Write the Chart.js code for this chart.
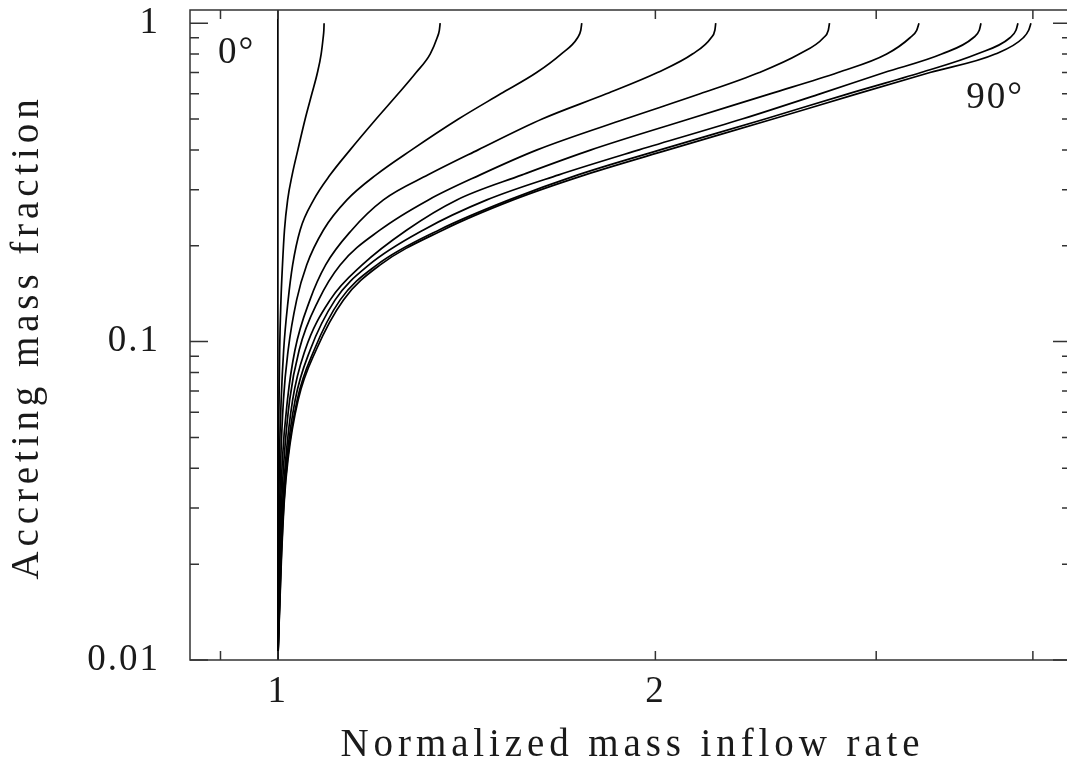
<!DOCTYPE html>
<html>
<head>
<meta charset="utf-8">
<title>Accreting mass fraction</title>
<script src="https://cdn.jsdelivr.net/npm/chart.js@4.4.1/dist/chart.umd.min.js"></script>
<style>
    html, body { margin: 0; padding: 0; background: #fff; overflow: hidden; }
    #chart { display: block; }
</style>
</head>
<body>
<canvas id="chart" width="1085" height="759" style="width:1085px;height:759px"></canvas>
<script>
'use strict';

// accreting mass fraction (y), shared by the 10..90 deg curves
var massFraction = [0.01, 0.0206, 0.0318, 0.0425, 0.0656, 0.0941, 0.1352, 0.1741, 0.2242,
                    0.2786, 0.3339, 0.4, 0.5, 0.6, 0.7, 0.8, 0.9, 0.95, 1.0];

// 0 deg: straight line at inflow rate 1
var inflow0   = [1, 1];
var fraction0 = [0.01, 1.1];

// normalized mass inflow rate, one array per inclination
var inflow10 = [1.000, 1.0004, 1.0006, 1.0009, 1.0022, 1.0033, 1.0057, 1.0085, 1.0122, 1.0181,
                1.0266, 1.0374, 1.0514, 1.0644, 1.0754, 1.0827, 1.0867, 1.0881, 1.0886];
var inflow20 = [1.000, 1.0009, 1.0018, 1.0028, 1.0061, 1.0107, 1.0191, 1.0275, 1.0418, 1.0679,
                1.1008, 1.1419, 1.1977, 1.2471, 1.2890, 1.3226, 1.3397, 1.3451, 1.3472];
var inflow30 = [1.000, 1.0018, 1.0035, 1.0053, 1.0103, 1.0191, 1.0351, 1.0543, 1.0873, 1.1352,
                1.1977, 1.2784, 1.3931, 1.5053, 1.6081, 1.6821, 1.7338, 1.7440, 1.7472];
var inflow40 = [1.000, 1.0029, 1.0053, 1.0083, 1.0178, 1.0319, 1.0607, 1.0917, 1.1455, 1.2139,
                1.3177, 1.4444, 1.6244, 1.8279, 2.0077, 2.1409, 2.2157, 2.2308, 2.2345];
var inflow50 = [1.000, 1.0039, 1.0072, 1.0113, 1.0219, 1.0399, 1.0778, 1.1212, 1.2066, 1.3184,
                1.4497, 1.6096, 1.8918, 2.1710, 2.4206, 2.6050, 2.7234, 2.7475, 2.7535];
var inflow60 = [1.000, 1.0050, 1.0092, 1.0144, 1.0275, 1.0514, 1.1008, 1.1674, 1.2672, 1.3890,
                1.5659, 1.7773, 2.1276, 2.4686, 2.7968, 3.0584, 3.1920, 3.2315, 3.2452];
var inflow70 = [1.000, 1.0055, 1.0105, 1.0163, 1.0323, 1.0611, 1.1109, 1.1820, 1.3064, 1.4676,
                1.6750, 1.9410, 2.3450, 2.7059, 3.0449, 3.3833, 3.5853, 3.6250, 3.6364];
var inflow80 = [1.000, 1.0061, 1.0115, 1.0178, 1.0361, 1.0689, 1.1212, 1.1995, 1.3446, 1.5289,
                1.7348, 2.0173, 2.4461, 2.8487, 3.2571, 3.6098, 3.8352, 3.8776, 3.8919];
var inflow90 = [1.000, 1.0065, 1.0120, 1.0187, 1.0380, 1.0728, 1.1280, 1.2066, 1.3545, 1.5402,
                1.7578, 2.0471, 2.4823, 2.8961, 3.3114, 3.7331, 3.9300, 3.9691, 3.9859];

// axis ticks
var xTickLabels = [1, 2];
var xMinorTicks = [0.9, 1, 2, 3, 4];
var yTickLabels = [0.01, 0.1, 1];
var yMinorTicks = [0.02, 0.03, 0.04, 0.05, 0.06, 0.07, 0.08, 0.09,
                   0.2, 0.3, 0.4, 0.5, 0.6, 0.7, 0.8, 0.9];

// curve labels, anchored in data units (left edge, baseline)
var angleNotes = [
    { text: '0°',  x: 0.896, y: 0.750 },
    { text: '90°', x: 3.54,  y: 0.541 }
];

var SERIF = '"Liberation Serif", "Times New Roman", serif';
var INK = '#1a1a1a';

function toPoints(xs, ys) {
    return xs.map(function(x, i) { return { x: x, y: ys[i] }; });
}

function curveStyle(points, smooth) {
    return {
        data: points,
        showLine: true,
        borderColor: '#000',
        backgroundColor: '#000',
        borderWidth: 1.7,
        pointRadius: 0,
        fill: false,
        tension: smooth ? 0.4 : 0,
        cubicInterpolationMode: smooth ? 'monotone' : 'default'
    };
}

var curves = [inflow10, inflow20, inflow30, inflow40, inflow50,
              inflow60, inflow70, inflow80, inflow90];

var datasets = [curveStyle(toPoints(inflow0, fraction0), false)].concat(
    curves.map(function(c) {
        return curveStyle(toPoints(c, massFraction), true);
    })
);

var framePlugin = {
    id: 'frame',
    beforeDraw: function(chart) {
        chart.ctx.letterSpacing = '2px';
    },
    afterDraw: function(chart) {
        var ctx = chart.ctx,
            area = chart.chartArea,
            xs = chart.scales.x,
            ys = chart.scales.y;

        ctx.save();
        ctx.strokeStyle = '#333';
        ctx.lineWidth = 1.5;
        ctx.strokeRect(area.left, area.top, area.right - area.left, area.bottom - area.top);

        // inward ticks on all four sides
        ctx.beginPath();
        xMinorTicks.forEach(function(v) {
            var px = xs.getPixelForValue(v);
            ctx.moveTo(px, area.bottom); ctx.lineTo(px, area.bottom - 9);
            ctx.moveTo(px, area.top);    ctx.lineTo(px, area.top + 9);
        });
        yMinorTicks.concat(yTickLabels).forEach(function(v) {
            var py = ys.getPixelForValue(v),
                len = yTickLabels.indexOf(v) >= 0 ? 18 : 9;
            ctx.moveTo(area.left, py);  ctx.lineTo(area.left + len, py);
            ctx.moveTo(area.right, py); ctx.lineTo(area.right - len, py);
        });
        ctx.stroke();

        ctx.fillStyle = INK;
        ctx.textAlign = 'left';
        ctx.textBaseline = 'alphabetic';
        ctx.font = '37px ' + SERIF;
        ctx.letterSpacing = '2px';
        angleNotes.forEach(function(n) {
            ctx.fillText(n.text, xs.getPixelForValue(n.x), ys.getPixelForValue(n.y));
        });

        // axis titles
        ctx.font = '39px ' + SERIF;
        ctx.letterSpacing = '4.9px';
        ctx.textAlign = 'center';
        ctx.fillText('Normalized mass inflow rate', (area.left + area.right) / 2 + 2, 756);

        ctx.translate(38, (area.top + area.bottom) / 2 + 2);
        ctx.rotate(-Math.PI / 2);
        ctx.fillText('Accreting mass fraction', 0, 0);
        ctx.restore();
    }
};

new Chart(document.getElementById('chart'), {
    type: 'scatter',
    data: { datasets: datasets },
    options: {
        responsive: false,
        animation: false,
        events: [],
        layout: {
            autoPadding: false,
            padding: { top: 10, right: 14, left: 0, bottom: 0 }
        },
        plugins: {
            legend: { display: false },
            tooltip: { enabled: false }
        },
        scales: {
            x: {
                type: 'logarithmic',
                min: 0.851,
                max: 4.29,
                grid: { display: false, drawTicks: false },
                border: { display: false },
                afterBuildTicks: function(scale) {
                    scale.ticks = xTickLabels.map(function(v) { return { value: v }; });
                },
                afterFit: function(scale) {
                    scale.height = 99;
                    scale.paddingLeft = 0;
                    scale.paddingRight = 0;
                },
                ticks: {
                    autoSkip: false,
                    maxRotation: 0,
                    padding: 10,
                    color: INK,
                    font: { family: SERIF, size: 37 },
                    callback: function(v) { return String(v); }
                }
            },
            y: {
                type: 'logarithmic',
                min: 0.01,
                max: 1.1,
                grid: { display: false, drawTicks: false },
                border: { display: false },
                afterBuildTicks: function(scale) {
                    scale.ticks = yTickLabels.map(function(v) { return { value: v }; });
                },
                afterFit: function(scale) {
                    scale.width = 190;
                    scale.paddingTop = 0;
                    scale.paddingBottom = 0;
                },
                ticks: {
                    autoSkip: false,
                    padding: 30,
                    color: INK,
                    font: { family: SERIF, size: 37 },
                    callback: function(v) { return String(v); }
                }
            }
        }
    },
    plugins: [framePlugin]
});
</script>
</body>
</html>
